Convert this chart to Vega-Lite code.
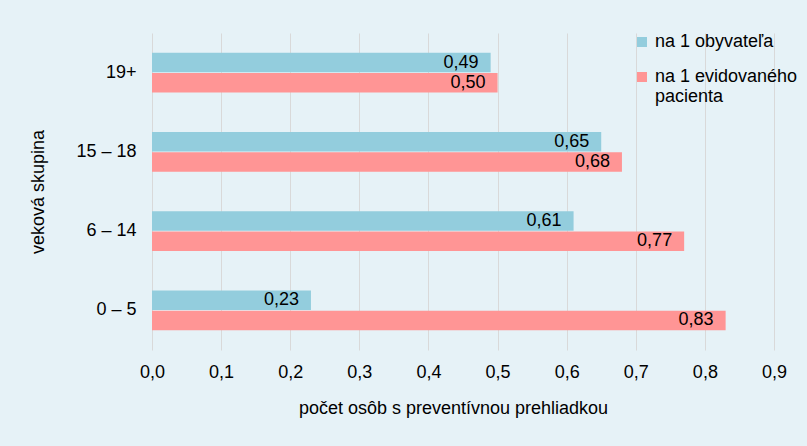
{
  "$schema": "https://vega.github.io/schema/vega-lite/v6.json",
  "width": 622,
  "height": 317,
  "autosize": {"type": "none"},
  "padding": {"left": 152, "top": 33, "right": 33, "bottom": 96},
  "background": "#e6f2f7",
  "config": {
    "view": {"stroke": null},
    "font": "Liberation Sans",
    "axis": {"labelFont": "Liberation Sans", "titleFont": "Liberation Sans", "labelColor": "#000000", "titleColor": "#000000", "titleFontWeight": "normal"}
  },
  "data": {
    "values": [
      {"skupina": "19+", "seria": "na 1 obyvateľa", "hodnota": 0.49},
      {"skupina": "19+", "seria": "na 1 evidovaného pacienta", "hodnota": 0.50},
      {"skupina": "15 – 18", "seria": "na 1 obyvateľa", "hodnota": 0.65},
      {"skupina": "15 – 18", "seria": "na 1 evidovaného pacienta", "hodnota": 0.68},
      {"skupina": "6 – 14", "seria": "na 1 obyvateľa", "hodnota": 0.61},
      {"skupina": "6 – 14", "seria": "na 1 evidovaného pacienta", "hodnota": 0.77},
      {"skupina": "0 – 5", "seria": "na 1 obyvateľa", "hodnota": 0.23},
      {"skupina": "0 – 5", "seria": "na 1 evidovaného pacienta", "hodnota": 0.83}
    ]
  },
  "encoding": {
    "y": {
      "field": "skupina", "type": "nominal",
      "sort": ["19+", "15 – 18", "6 – 14", "0 – 5"],
      "scale": {"paddingInner": 0.5, "paddingOuter": 0.25},
      "axis": {"title": "veková skupina", "ticks": false, "domain": false, "labelFontSize": 18, "labelPadding": 16, "titleFontSize": 18, "titlePadding": 28, "grid": false}
    },
    "yOffset": {"field": "seria", "type": "nominal", "sort": ["na 1 obyvateľa", "na 1 evidovaného pacienta"], "scale": {"paddingInner": 0.03}},
    "x": {
      "field": "hodnota", "type": "quantitative",
      "scale": {"domain": [0, 0.9], "nice": false},
      "axis": {"title": "počet osôb s preventívnou prehliadkou", "titleX": 301, "values": [0, 0.1, 0.2, 0.3, 0.4, 0.5, 0.6, 0.7, 0.8, 0.9], "labelExpr": "replace(format(datum.value, '.1f'), '.', ',')", "domain": false, "ticks": false, "grid": true, "gridColor": "#d9d9d9", "labelFontSize": 18, "labelPadding": 13, "titleFontSize": 18, "titlePadding": 18, "labelFlush": false}
    }
  },
  "layer": [
    {
      "mark": {"type": "bar"},
      "encoding": {
        "color": {
          "field": "seria", "type": "nominal",
          "sort": ["na 1 obyvateľa", "na 1 evidovaného pacienta"],
          "scale": {"range": ["#93cddd", "#ff9595"]},
          "legend": {
            "title": null, "orient": "none", "legendX": 481, "legendY": 0,
            "symbolType": "square", "symbolSize": 100, "symbolStrokeWidth": 0,
            "labelFontSize": 18, "labelFont": "Liberation Sans", "labelColor": "#000000",
            "labelLimit": 300, "rowPadding": 17, "labelOffset": 4,
            "labelExpr": "datum.label == 'na 1 evidovaného pacienta' ? ['na 1 evidovaného', 'pacienta'] : datum.label"
          }
        }
      }
    },
    {
      "mark": {"type": "text", "align": "right", "baseline": "middle", "dx": -12, "fontSize": 18, "font": "Liberation Sans", "color": "#000000",
        "text": {"expr": "replace(format(datum.hodnota, '.2f'), '.', ',')"}}
    }
  ]
}
